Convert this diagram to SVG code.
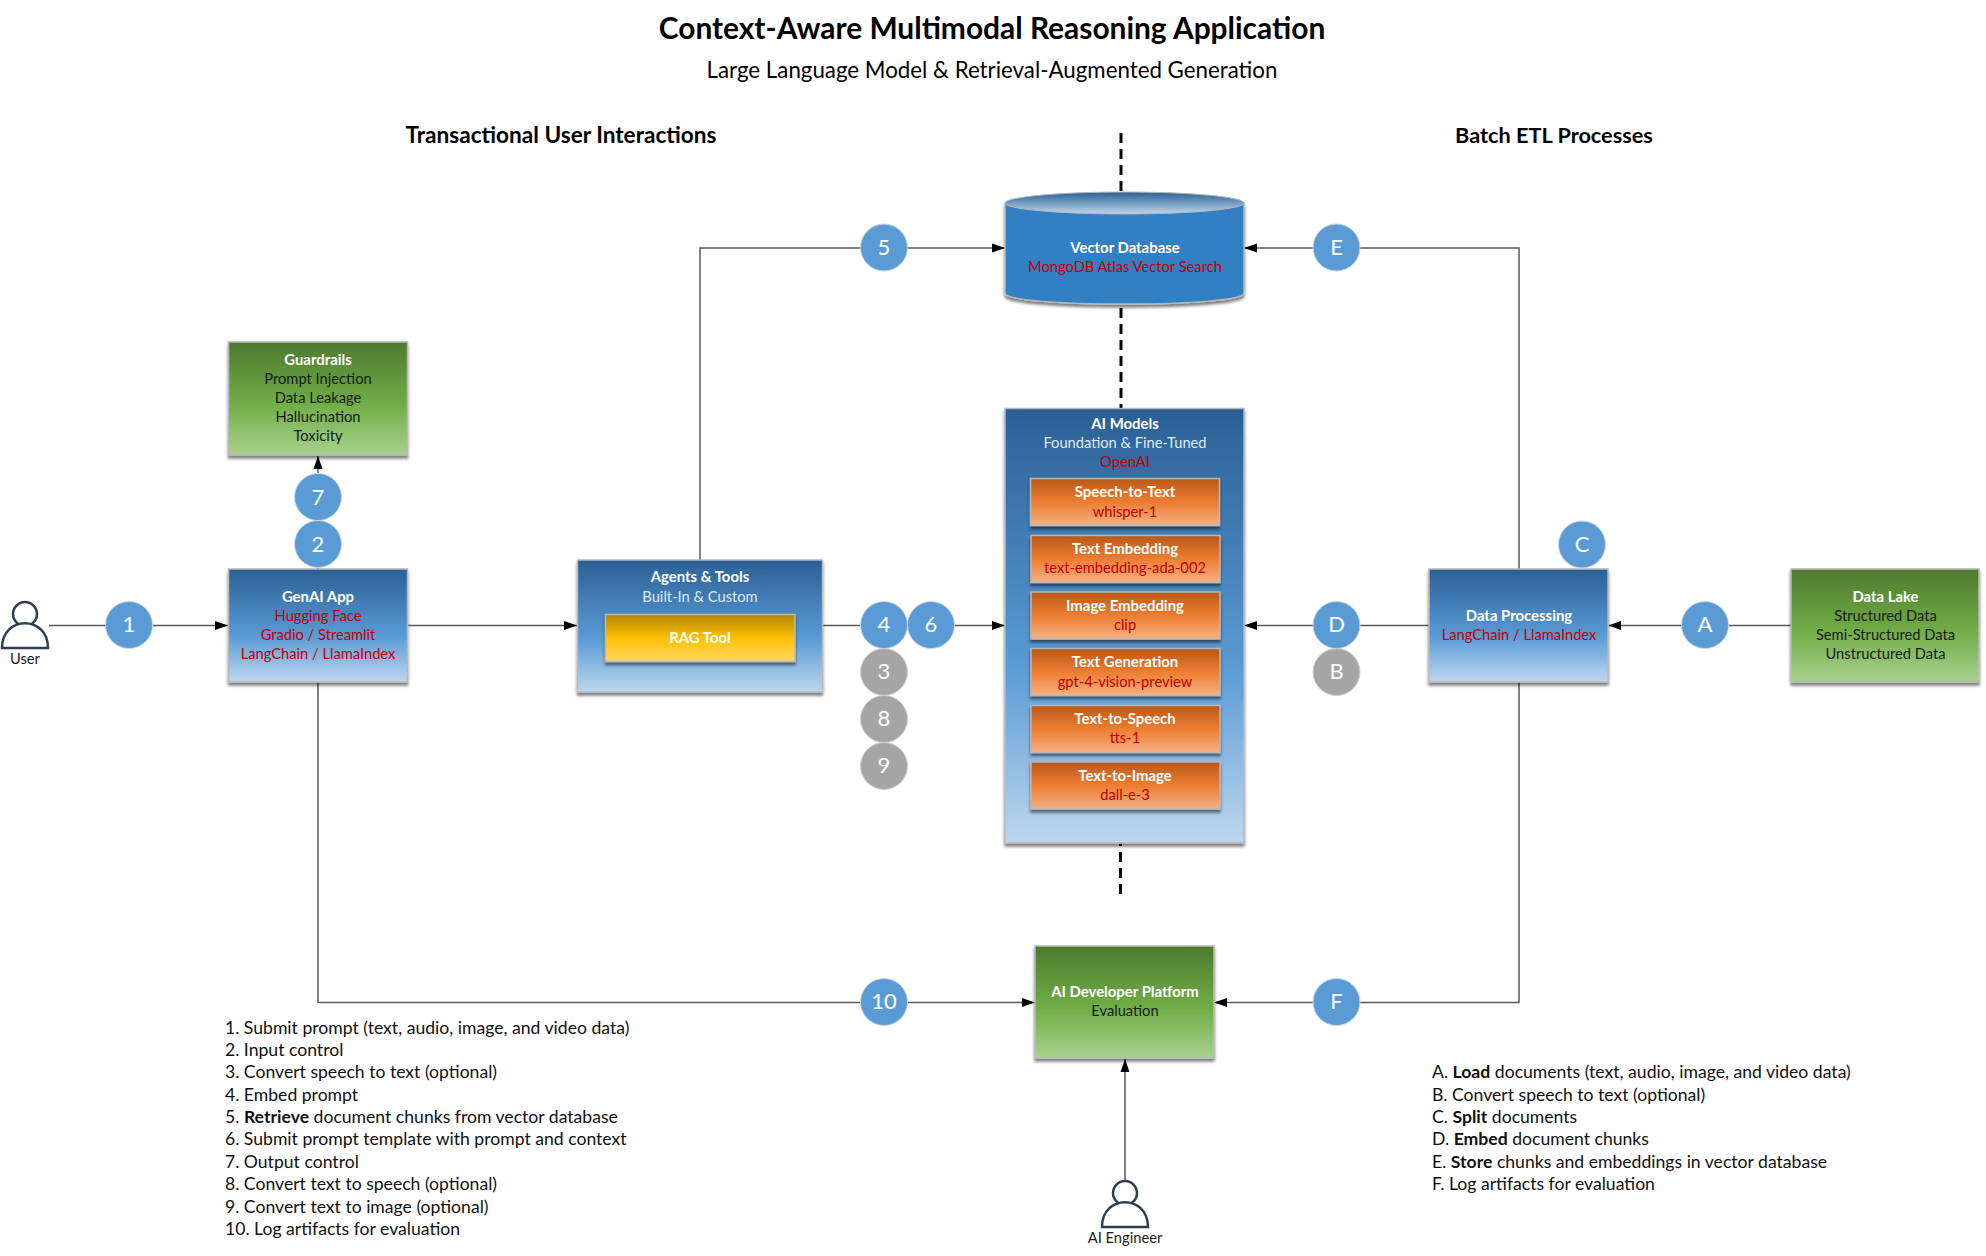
<svg xmlns="http://www.w3.org/2000/svg" width="1986" height="1256" viewBox="0 0 1986 1256">
<style>
text{font-family:"Lato","Liberation Sans",sans-serif;}
.n{font-size:14.7px;text-anchor:middle;}
.b{font-weight:700;fill:#fff;font-size:14.9px;}
.w{fill:#ddebf7;}
.r{fill:#c00000;}
.k{fill:#1a1a1a;}
.num{font-size:22px;fill:#fff;text-anchor:middle;}
.cb{fill:#5b9bd5;stroke:#c9d6e2;stroke-width:1;}
.cg{fill:#a5a5a5;stroke:#d0d0d0;stroke-width:1;}
.box{stroke:#b8b8b8;stroke-width:1.5;filter:url(#sh);}
.ln{fill:none;stroke:#595959;stroke-width:1.5;}
.dash{fill:none;stroke:#000;stroke-width:3;stroke-dasharray:10 6;}
.list{font-size:17.6px;fill:#111;}
.h{font-weight:700;fill:#000;text-anchor:middle;}
.person{fill:#fff;stroke:#2f3e50;stroke-width:2.5;}
</style>
<defs>
<filter id="sh" x="-10%" y="-10%" width="120%" height="125%"><feDropShadow dx="0" dy="3" stdDeviation="1.5" flood-color="#000" flood-opacity="0.5"/></filter>
<linearGradient id="gb" x1="0" y1="0" x2="0" y2="1"><stop offset="0" stop-color="#2a6095"/><stop offset="0.6" stop-color="#5b9bd5"/><stop offset="1" stop-color="#bdd7ee"/></linearGradient>
<linearGradient id="gg" x1="0" y1="0" x2="0" y2="1"><stop offset="0" stop-color="#4e7a2e"/><stop offset="0.55" stop-color="#70ad47"/><stop offset="1" stop-color="#a9d18e"/></linearGradient>
<linearGradient id="go" x1="0" y1="0" x2="0" y2="1"><stop offset="0" stop-color="#b9581a"/><stop offset="0.5" stop-color="#ed7d31"/><stop offset="1" stop-color="#f4b183"/></linearGradient>
<linearGradient id="gy" x1="0" y1="0" x2="0" y2="1"><stop offset="0" stop-color="#b38600"/><stop offset="0.5" stop-color="#ffc000"/><stop offset="1" stop-color="#ffd966"/></linearGradient>
<linearGradient id="gt" x1="0" y1="0" x2="0" y2="1"><stop offset="0" stop-color="#2a6095"/><stop offset="1" stop-color="#bdd7ee"/></linearGradient>
<marker id="ah" markerUnits="userSpaceOnUse" markerWidth="14" markerHeight="10" refX="13" refY="5" orient="auto"><path d="M0 0.5L13 5L0 9.5Z" fill="#000"/></marker>
</defs>
<rect width="1986" height="1256" fill="#fff"/>

<g id="titles">
<text x="992" y="39" font-size="29.9" font-weight="700" text-anchor="middle" fill="#000">Context-Aware Multimodal Reasoning Application</text>
<text x="992" y="78" font-size="22.3" text-anchor="middle" fill="#000">Large Language Model &amp; Retrieval-Augmented Generation</text>
<text class="h" x="561" y="143" font-size="22.6">Transactional User Interactions</text>
<text class="h" x="1554" y="143" font-size="21.7">Batch ETL Processes</text>
</g>

<g id="connectors">
<path class="dash" d="M1121 133V192"/>
<path class="dash" d="M1121 308V408"/>
<path class="dash" d="M1120.500 836V894"/>
<path class="ln" marker-end="url(#ah)" d="M49 625.500H228"/>
<path class="ln" marker-end="url(#ah)" d="M318 520V456"/>
<path class="ln" d="M318 545V569"/>
<path class="ln" marker-end="url(#ah)" d="M407 625.500H577"/>
<path class="ln" marker-end="url(#ah)" d="M700 560V248H1005"/>
<path class="ln" marker-end="url(#ah)" d="M823 625.500H1005"/>
<path class="ln" marker-end="url(#ah)" d="M318 682V1002.500H1035"/>
<path class="ln" marker-end="url(#ah)" d="M1519 569V248H1244"/>
<path class="ln" marker-end="url(#ah)" d="M1429 625.500H1244"/>
<path class="ln" marker-end="url(#ah)" d="M1519 682V1002.500H1214"/>
<path class="ln" marker-end="url(#ah)" d="M1791 625.500H1608"/>
<path class="ln" marker-end="url(#ah)" d="M1125 1181V1059"/>
</g>

<g id="user">
<circle class="person" cx="25" cy="614" r="12"/>
<path class="person" d="M2 648C2 615 48 615 48 648Z"/>
<text class="n" x="25" y="664" fill="#1a1a1a">User</text>
</g>
<g id="ai-engineer">
<circle class="person" cx="1125" cy="1193" r="12"/>
<path class="person" d="M1102 1227C1102 1194 1148 1194 1148 1227Z"/>
<text class="n" x="1125" y="1243" fill="#1a1a1a">AI Engineer</text>
</g>

<g id="guardrails">
<rect class="box" x="228.500" y="342" width="179" height="113" fill="url(#gg)"/>
<text class="n b" x="318" y="365">Guardrails</text>
<text class="n k" x="318" y="384">Prompt Injection</text>
<text class="n k" x="318" y="403">Data Leakage</text>
<text class="n k" x="318" y="422">Hallucination</text>
<text class="n k" x="318" y="441">Toxicity</text>
</g>
<g id="genai-app">
<rect class="box" x="228.500" y="569" width="179" height="113" fill="url(#gb)"/>
<text class="n b" x="318" y="602">GenAI App</text>
<text class="n r" x="318" y="621">Hugging Face</text>
<text class="n r" x="318" y="640">Gradio / Streamlit</text>
<text class="n r" x="318" y="659">LangChain / LlamaIndex</text>
</g>
<g id="agents-tools">
<rect class="box" x="577.500" y="560" width="245" height="132" fill="url(#gb)"/>
<text class="n b" x="700" y="582">Agents &amp; Tools</text>
<text class="n w" x="700" y="602">Built-In &amp; Custom</text>
</g>
<g id="rag-tool">
<rect class="box" x="605.500" y="614.500" width="189.500" height="47" fill="url(#gy)"/>
<text class="n b" x="700" y="643">RAG Tool</text>
</g>
<g id="vector-database">
<path d="M1005 203V293C1005 300 1060 304 1124.500 304S1244 300 1244 293V203Z" fill="#337fc4" stroke="#b8b8b8" stroke-width="1.500" filter="url(#sh)"/>
<ellipse cx="1124.500" cy="203" rx="119.500" ry="11" fill="url(#gt)" stroke="#b8b8b8" stroke-width="1"/>
<text class="n b" x="1125" y="253">Vector Database</text>
<text class="n r" x="1125" y="272">MongoDB Atlas Vector Search</text>
</g>
<g id="ai-models">
<rect class="box" x="1005" y="408.500" width="239" height="434.500" fill="url(#gb)"/>
<text class="n b" x="1125" y="429">AI Models</text>
<text class="n w" x="1125" y="448">Foundation &amp; Fine-Tuned</text>
<text class="n r" x="1125" y="467">OpenAI</text>
</g>
<g id="speech-to-text">
<rect class="box" x="1030.500" y="478.500" width="189" height="47" fill="url(#go)"/>
<text class="n b" x="1125" y="497">Speech-to-Text</text>
<text class="n r" x="1125" y="517">whisper-1</text>
</g>
<g id="text-embedding">
<rect class="box" x="1031" y="535.500" width="189" height="47" fill="url(#go)"/>
<text class="n b" x="1125" y="554">Text Embedding</text>
<text class="n r" x="1125" y="573">text-embedding-ada-002</text>
</g>
<g id="image-embedding">
<rect class="box" x="1031" y="592" width="189" height="47" fill="url(#go)"/>
<text class="n b" x="1125" y="611">Image Embedding</text>
<text class="n r" x="1125" y="630">clip</text>
</g>
<g id="text-generation">
<rect class="box" x="1031" y="648.500" width="189" height="47" fill="url(#go)"/>
<text class="n b" x="1125" y="667">Text Generation</text>
<text class="n r" x="1125" y="687">gpt-4-vision-preview</text>
</g>
<g id="text-to-speech">
<rect class="box" x="1031" y="705.500" width="189" height="47" fill="url(#go)"/>
<text class="n b" x="1125" y="724">Text-to-Speech</text>
<text class="n r" x="1125" y="743">tts-1</text>
</g>
<g id="text-to-image">
<rect class="box" x="1031" y="762" width="189" height="47" fill="url(#go)"/>
<text class="n b" x="1125" y="781">Text-to-Image</text>
<text class="n r" x="1125" y="800">dall-e-3</text>
</g>
<g id="data-processing">
<rect class="box" x="1429" y="569" width="179" height="113" fill="url(#gb)"/>
<text class="n b" x="1519" y="621">Data Processing</text>
<text class="n r" x="1519" y="640">LangChain / LlamaIndex</text>
</g>
<g id="data-lake">
<rect class="box" x="1791" y="569" width="188" height="113" fill="url(#gg)"/>
<text class="n b" x="1885.500" y="602">Data Lake</text>
<text class="n k" x="1885.500" y="621">Structured Data</text>
<text class="n k" x="1885.500" y="640">Semi-Structured Data</text>
<text class="n k" x="1885.500" y="659">Unstructured Data</text>
</g>
<g id="ai-developer-platform">
<rect class="box" x="1035" y="946" width="179" height="112" fill="url(#gg)"/>
<text class="n b" x="1125" y="997">AI Developer Platform</text>
<text class="n k" x="1125" y="1016">Evaluation</text>
</g>

<g id="badge-1"><circle class="cb" cx="129" cy="625" r="23.500"/><text class="num" x="129" y="632">1</text></g>
<g id="badge-2"><circle class="cb" cx="318" cy="544" r="23.500"/><text class="num" x="318" y="552">2</text></g>
<g id="badge-7"><circle class="cb" cx="318" cy="497" r="23.500"/><text class="num" x="318" y="505">7</text></g>
<g id="badge-5"><circle class="cb" cx="884" cy="247.500" r="23.500"/><text class="num" x="884" y="255">5</text></g>
<g id="badge-4"><circle class="cb" cx="884" cy="625" r="23.500"/><text class="num" x="884" y="632">4</text></g>
<g id="badge-6"><circle class="cb" cx="931" cy="625" r="23.500"/><text class="num" x="931" y="632">6</text></g>
<g id="badge-3"><circle class="cg" cx="884" cy="672" r="23.500"/><text class="num" x="884" y="679">3</text></g>
<g id="badge-8"><circle class="cg" cx="884" cy="719" r="23.500"/><text class="num" x="884" y="726">8</text></g>
<g id="badge-9"><circle class="cg" cx="884" cy="766" r="23.500"/><text class="num" x="884" y="773">9</text></g>
<g id="badge-10"><circle class="cb" cx="884" cy="1002" r="23.500"/><text class="num" x="884" y="1009">10</text></g>
<g id="badge-E"><circle class="cb" cx="1336.500" cy="247.500" r="23.500"/><text class="num" x="1336.500" y="255">E</text></g>
<g id="badge-D"><circle class="cb" cx="1336.500" cy="625" r="23.500"/><text class="num" x="1336.500" y="632">D</text></g>
<g id="badge-B"><circle class="cg" cx="1336.500" cy="672" r="23.500"/><text class="num" x="1336.500" y="679">B</text></g>
<g id="badge-F"><circle class="cb" cx="1336.500" cy="1002" r="23.500"/><text class="num" x="1336.500" y="1009">F</text></g>
<g id="badge-C"><circle class="cb" cx="1582" cy="544.500" r="23.500"/><text class="num" x="1582" y="552">C</text></g>
<g id="badge-A"><circle class="cb" cx="1705" cy="625" r="23.500"/><text class="num" x="1705" y="632">A</text></g>

<g id="steps-transactional">
<text class="list" x="225" y="1034">1. Submit prompt (text, audio, image, and video data)</text>
<text class="list" x="225" y="1056">2. Input control</text>
<text class="list" x="225" y="1078">3. Convert speech to text (optional)</text>
<text class="list" x="225" y="1101">4. Embed prompt</text>
<text class="list" x="225" y="1123">5. <tspan font-weight="700">Retrieve</tspan> document chunks from vector database</text>
<text class="list" x="225" y="1145">6. Submit prompt template with prompt and context</text>
<text class="list" x="225" y="1168">7. Output control</text>
<text class="list" x="225" y="1190">8. Convert text to speech (optional)</text>
<text class="list" x="225" y="1213">9. Convert text to image (optional)</text>
<text class="list" x="225" y="1235">10. Log artifacts for evaluation</text>
</g>
<g id="steps-batch">
<text class="list" x="1432" y="1078">A. <tspan font-weight="700">Load</tspan> documents (text, audio, image, and video data)</text>
<text class="list" x="1432" y="1101">B. Convert speech to text (optional)</text>
<text class="list" x="1432" y="1123">C. <tspan font-weight="700">Split</tspan> documents</text>
<text class="list" x="1432" y="1145">D. <tspan font-weight="700">Embed</tspan> document chunks</text>
<text class="list" x="1432" y="1168">E. <tspan font-weight="700">Store</tspan> chunks and embeddings in vector database</text>
<text class="list" x="1432" y="1190">F. Log artifacts for evaluation</text>
</g>
</svg>
